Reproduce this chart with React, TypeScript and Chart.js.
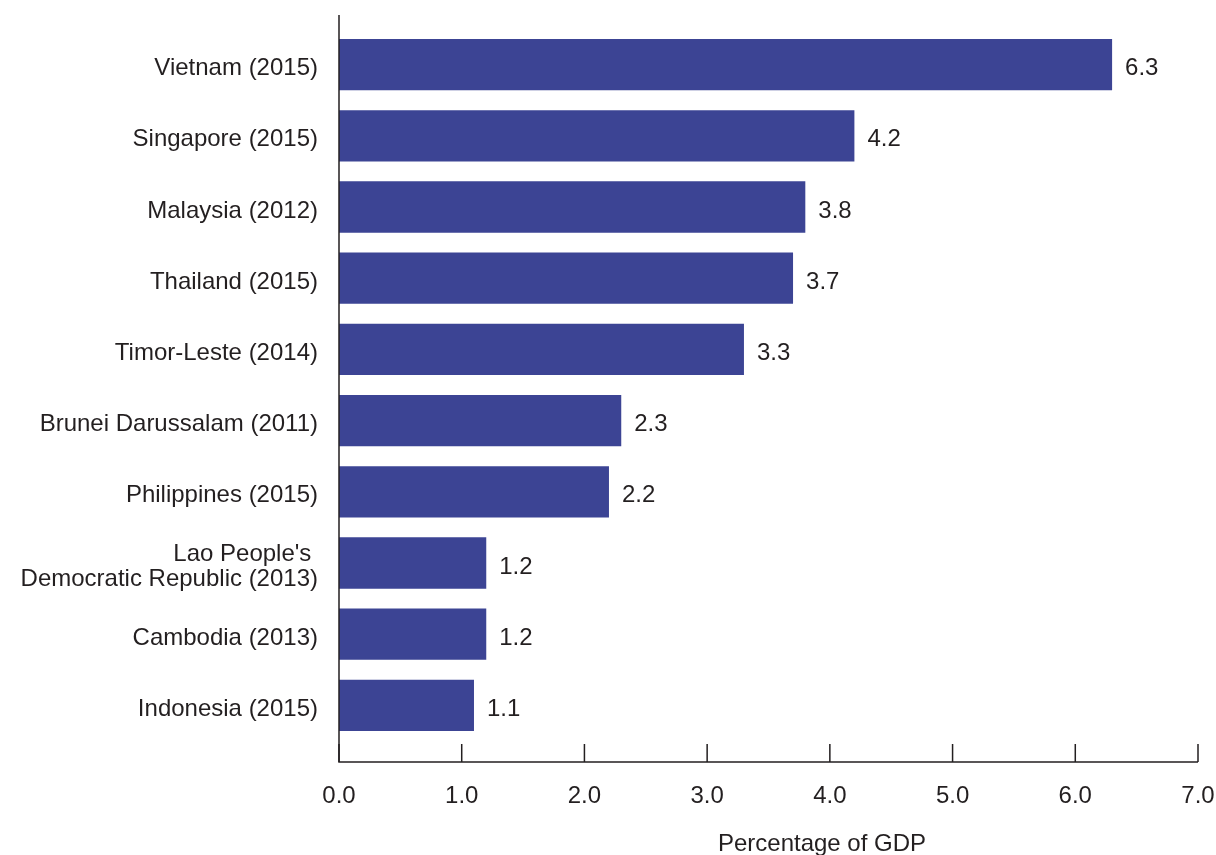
import React, { useEffect, useRef } from "react";
import { Chart, registerables } from "chart.js";

Chart.register(...registerables);

const categories: (string | string[])[] = [
  "Vietnam (2015)",
  "Singapore (2015)",
  "Malaysia (2012)",
  "Thailand (2015)",
  "Timor-Leste (2014)",
  "Brunei Darussalam (2011)",
  "Philippines (2015)",
  ["Lao People's ", "Democratic Republic (2013)"],
  "Cambodia (2013)",
  "Indonesia (2015)",
];
const values = [6.3, 4.2, 3.8, 3.7, 3.3, 2.3, 2.2, 1.2, 1.2, 1.1];
const xTicks = [0, 1, 2, 3, 4, 5, 6, 7];
const axisTitle = "Percentage of GDP";

const FONT = "'Liberation Sans', Arial, sans-serif";
const TEXT = "#231f20";
const BAR = "#3c4494";

export default function App() {
  const ref = useRef<HTMLCanvasElement | null>(null);
  useEffect(() => {
    if (!ref.current) return;
    const overlay = {
      id: "overlay",
      afterDatasetsDraw(chart: any) {
        const ctx = chart.ctx;
        const xs = chart.scales.x;
        const ys = chart.scales.y;
        const area = chart.chartArea;
        const meta = chart.getDatasetMeta(0);
        ctx.save();
        ctx.font = `24px ${FONT}`;
        ctx.fillStyle = TEXT;
        ctx.textBaseline = "middle";
        // value labels
        ctx.textAlign = "left";
        meta.data.forEach((bar: any, i: number) => {
          ctx.fillText(values[i].toFixed(1), bar.x + 13, bar.y + 4);
        });
        // category labels
        ctx.textAlign = "right";
        categories.forEach((c, i) => {
          const cy = ys.getPixelForValue(i) + 4;
          const lines = Array.isArray(c) ? c : [c];
          const lh = 25;
          lines.forEach((ln, k) => {
            const y = cy + (k - (lines.length - 1) / 2) * lh;
            ctx.fillText(ln, area.left - 21, y);
          });
        });
        // axes
        const axisY = area.bottom + 21;
        ctx.strokeStyle = TEXT;
        ctx.lineWidth = 1.5;
        ctx.beginPath();
        ctx.moveTo(area.left, 15);
        ctx.lineTo(area.left, axisY);
        ctx.lineTo(xs.getPixelForValue(xTicks[xTicks.length - 1]), axisY);
        ctx.stroke();
        ctx.beginPath();
        xTicks.forEach((t) => {
          const px = xs.getPixelForValue(t);
          ctx.moveTo(px, axisY);
          ctx.lineTo(px, axisY - 18);
        });
        ctx.stroke();
        ctx.textAlign = "center";
        ctx.fillText(axisTitle, 822, 844);
        ctx.restore();
      },
    };
    const chart = new Chart(ref.current, {
      type: "bar",
      data: {
        labels: categories as any,
        datasets: [
          {
            data: values,
            backgroundColor: BAR,
            borderWidth: 0,
            categoryPercentage: 1,
            barPercentage: 0.72,
          },
        ],
      },
      options: {
        indexAxis: "y",
        animation: false,
        responsive: false,
        maintainAspectRatio: false,
        layout: { padding: { top: 29, right: 18, left: 0, bottom: 0 } },
        plugins: { legend: { display: false }, tooltip: { enabled: false } },
        scales: {
          x: {
            type: "linear",
            min: 0,
            max: 7,
            afterFit: (s: any) => {
              s.height = 114;
              s.paddingLeft = 0;
              s.paddingRight = 0;
            },
            afterBuildTicks: (s: any) => {
              s.ticks = xTicks.map((v) => ({ value: v }));
            },
            grid: { display: false, drawTicks: false },
            border: { display: false },
            ticks: {
              padding: 41,
              color: TEXT,
              font: { family: FONT, size: 24, lineHeight: 1.2 },
              callback: (v: any) => Number(v).toFixed(1),
            },
          },
          y: {
            afterFit: (s: any) => {
              s.width = 339;
              s.paddingTop = 0;
              s.paddingBottom = 0;
            },
            grid: { display: false, drawTicks: false },
            border: { display: false },
            ticks: { display: false },
          },
        },
      },
      plugins: [overlay],
    } as any);
    return () => chart.destroy();
  }, []);
  return (
    <div style={{ position: "fixed", left: 0, top: 0, width: 1216, height: 855, background: "#fff" }}>
      <canvas ref={ref} width={1216} height={855} style={{ width: 1216, height: 855 }} />
    </div>
  );
}
